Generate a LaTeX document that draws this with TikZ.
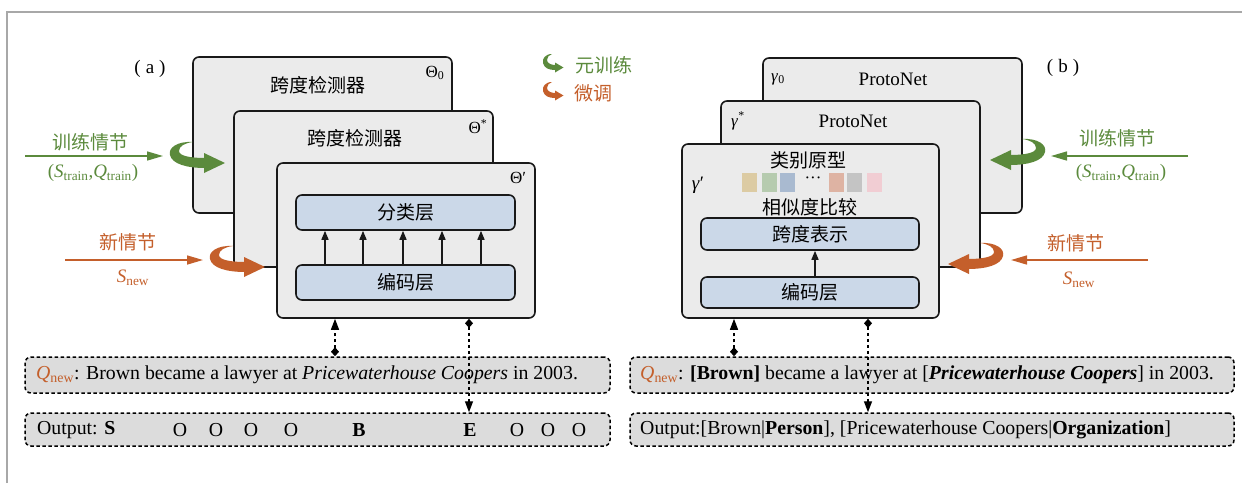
\documentclass[tikz,border=0pt]{standalone}
\usepackage{fontspec}
\setmainfont{Liberation Serif}
\newfontfamily\cjk{Noto Sans CJK SC}
\usetikzlibrary{arrows.meta}
\definecolor{ogreen}{HTML}{5B8A3C}
\definecolor{oorange}{HTML}{C45F2B}
\definecolor{boxfill}{HTML}{EBEBEB}
\definecolor{bluefill}{HTML}{CBD8E8}
\definecolor{dashfill}{HTML}{DCDCDC}
\definecolor{framegray}{HTML}{A8A8A8}
\definecolor{pa}{HTML}{DCCBA3}
\definecolor{pb}{HTML}{B6CBAF}
\definecolor{pc}{HTML}{A9BAD0}
\definecolor{pd}{HTML}{DEB3A3}
\definecolor{pe}{HTML}{C4C4C4}
\definecolor{pf}{HTML}{F1CDD3}
\tikzset{
  panel/.style={draw=black!90, fill=boxfill, line width=1.6pt, rounded corners=6pt, inner sep=0pt},
  layer/.style={draw=black!90, fill=bluefill, line width=1.6pt, rounded corners=6pt, inner sep=0pt, font=\cjk\fontsize{19}{22}\selectfont},
  dbox/.style={draw=black, fill=dashfill, dash pattern=on 3.5pt off 2.5pt, line width=1.5pt, rounded corners=6pt, inner sep=0pt},
  cn/.style={font=\cjk\fontsize{19}{22}\selectfont, inner sep=0pt},
  lat/.style={font=\fontsize{19}{22}\selectfont, inner sep=0pt},
  big/.style={font=\fontsize{19.8}{22}\selectfont, inner sep=0pt},
  small/.style={font=\fontsize{17}{20}\selectfont, inner sep=0pt},
  sq/.style={minimum width=15pt, minimum height=19pt, inner sep=0pt},
  thinarrow/.style={line width=1.5pt, -{Triangle[length=16pt,width=9pt]}},
  uparrow/.style={line width=1.5pt, black!90, -{Triangle[length=9pt,width=7pt]}},
  dconn/.style={line width=1.4pt, dash pattern=on 3.5pt off 2.5pt, {Diamond[length=9pt,width=8pt]}-{Triangle[length=11pt,width=8pt]}},
  curl/.pic={
    \fill (0,0) .. controls (-16,-1) and (-25,6) .. (-23,13) .. controls (-21,22) and (-6,26) .. (12,26)
      -- (12,16) .. controls (-2,16) and (-14,14) .. (-14,9) .. controls (-14,4) and (-8,1) .. (0,0) -- cycle;
    \fill (11,11) -- (32,21) -- (11,31) -- cycle;
  },
  minicurl/.pic={
    \fill (0,0) .. controls (-7,0) and (-10,5) .. (-9,9) .. controls (-8,14) and (-3,16) .. (3,16)
      -- (3,11) .. controls (-1,11) and (-5,9) .. (-5,6) .. controls (-5,3) and (-3,1) .. (0,0) -- cycle;
    \fill (3,8.5) -- (11.5,13.5) -- (3,18.5) -- cycle;
  }
}
\begin{document}
\begin{tikzpicture}[x=1pt,y=-1pt]
\useasboundingbox (0,0) rectangle (1242,483);
% frame
\coordinate (f0) at (7,483);
\coordinate (f1) at (7,12);
\coordinate (f2) at (1242,12);
\draw[framegray, line width=1.4pt] (f0) -- (f1) -- (f2);

% ===== panel (a) =====
\node[lat] (la) at (150,69) {(\hspace{5pt}a\hspace{5pt})};
\node[panel, minimum width=259pt, minimum height=156pt] (b1) at (322.5,135) {};
\node[cn] (t1) at (318,85) {跨度检测器};
\node[small] (th0) at (435,73) {Θ\textsubscript{0}};
\pic[color=ogreen] at (193,142) {curl};
\node[panel, minimum width=259pt, minimum height=156pt] (b2) at (363.5,189) {};
\node[cn] (t2) at (355,138) {跨度检测器};
\node[small] (ths) at (478,127) {Θ\textsuperscript{*}};
\pic[color=oorange] at (233,246) {curl};
\node[panel, minimum width=258pt, minimum height=155pt] (b3) at (406,240.5) {};
\node[small] (thp) at (518,178) {Θ′};
\node[layer, minimum width=219pt, minimum height=35pt] (cls) at (405.5,212.5) {分类层};
\node[layer, minimum width=219pt, minimum height=35pt] (enc) at (405.5,282.5) {编码层};
\foreach \x in {325,363,403,442,481}
  \draw[uparrow] (enc.north -| \x,0) -- (cls.south -| \x,0);

% left inputs
\node[cn, text=ogreen] (lgt) at (90,142) {训练情节};
\node[lat, text=ogreen] (lgs) at (93,173) {(\textit{S}\textsubscript{train},\textit{Q}\textsubscript{train})};
\coordinate (ga0) at (25,156);
\coordinate (ga1) at (163,156);
\draw[thinarrow, ogreen] (ga0) -- (ga1);
\node[cn, text=oorange] (lot) at (128,242) {新情节};
\node[lat, text=oorange] (los) at (133,278) {\textit{S}\textsubscript{new}};
\coordinate (oa0) at (65,260);
\coordinate (oa1) at (203,260);
\draw[thinarrow, oorange] (oa0) -- (oa1);

% legend
\pic[color=ogreen] at (552,54) {minicurl};
\node[cn, text=ogreen] (lg1) at (604,65) {元训练};
\pic[color=oorange] at (552,82) {minicurl};
\node[cn, text=oorange] (lg2) at (593,93) {微调};

% ===== panel (b) =====
\node[lat] (lb) at (1063,68) {(\hspace{5pt}b\hspace{5pt})};
\node[panel, minimum width=259pt, minimum height=155pt] (r1) at (892.5,135.5) {};
\node[lat] (pn1) at (893,79) {ProtoNet};
\node[small] (g0) at (778,79) {\textit{γ}\textsubscript{0}};
\pic[color=ogreen, xscale=-1] at (1022,139) {curl};
\node[panel, minimum width=259pt, minimum height=166pt] (r2) at (850.5,184) {};
\node[lat] (pn2) at (853,121) {ProtoNet};
\node[small] (gs) at (738,121) {\textit{γ}\textsuperscript{*}};
\pic[color=oorange, xscale=-1] at (980,243) {curl};
\node[panel, minimum width=257pt, minimum height=174pt] (r3) at (810.5,231) {};
\node[lat] (gp) at (698,185) {\textit{γ}′};
\node[cn] (proto) at (808,160) {类别原型};
\node[sq, fill=pa] (p1) at (749.5,182.5) {};
\node[sq, fill=pb] (p2) at (769.5,182.5) {};
\node[sq, fill=pc] (p3) at (787.5,182.5) {};
\node[small] (pdots) at (813,180) {···};
\node[sq, fill=pd] (p4) at (836.5,182.5) {};
\node[sq, fill=pe] (p5) at (854.5,182.5) {};
\node[sq, fill=pf] (p6) at (874.5,182.5) {};
\node[cn] (sim) at (810,207) {相似度比较};
\node[layer, minimum width=218pt, minimum height=32pt] (span) at (810,234) {跨度表示};
\node[layer, minimum width=218pt, minimum height=31pt] (renc) at (810,292.5) {编码层};
\draw[uparrow] (renc.north -| 815,0) -- (span.south -| 815,0);

% right inputs
\node[cn, text=ogreen] (rgt) at (1117,138) {训练情节};
\node[lat, text=ogreen] (rgs) at (1121,173) {(\textit{S}\textsubscript{train},\textit{Q}\textsubscript{train})};
\coordinate (gb0) at (1188,156);
\coordinate (gb1) at (1051,156);
\draw[thinarrow, ogreen] (gb0) -- (gb1);
\node[cn, text=oorange] (rot) at (1076,243) {新情节};
\node[lat, text=oorange] (ros) at (1079,280) {\textit{S}\textsubscript{new}};
\coordinate (ob0) at (1148,260);
\coordinate (ob1) at (1011,260);
\draw[thinarrow, oorange] (ob0) -- (ob1);

% ===== bottom (a) =====
\node[dbox, minimum width=585pt, minimum height=36pt] (qa) at (317.5,375) {};
\node[big, anchor=west] (qat) at (36,375) {\textcolor{oorange}{\textit{Q}\textsubscript{new}}: Brown became a lawyer at \textit{Pricewaterhouse Coopers} in 2003.};
\node[dbox, minimum width=585pt, minimum height=33pt] (oa) at (317.5,429.5) {};
\node[big, anchor=west] (oat) at (37,430) {Output: \textbf{S}};
\foreach \x/\t [count=\i] in {180/O,216/O,251/O,291/O,359/\textbf{B},470/\textbf{E},517/O,548/O,579/O}
  \node[big] (tok\i) at (\x,430) {\t};
\draw[dconn] (qa.north -| 335,0) -- (b3.south -| 335,0);
\draw[dconn] (b3.south -| 469,0) -- (oa.north -| 469,0);

% ===== bottom (b) =====
\node[dbox, minimum width=604pt, minimum height=36pt] (qb) at (932,375) {};
\node[big, anchor=west] (qbt) at (640,375) {\textcolor{oorange}{\textit{Q}\textsubscript{new}}: \textbf{[Brown]} became a lawyer at [\textbf{\textit{Pricewaterhouse Coopers}}] in 2003.};
\node[dbox, minimum width=604pt, minimum height=33pt] (ob) at (932,429.5) {};
\node[big, anchor=west] (obt) at (640,430) {Output:[Brown|\textbf{Person}], [Pricewaterhouse Coopers|\textbf{Organization}]};
\draw[dconn] (qb.north -| 734,0) -- (r3.south -| 734,0);
\draw[dconn] (r3.south -| 868,0) -- (ob.north -| 868,0);
\end{tikzpicture}
\end{document}
